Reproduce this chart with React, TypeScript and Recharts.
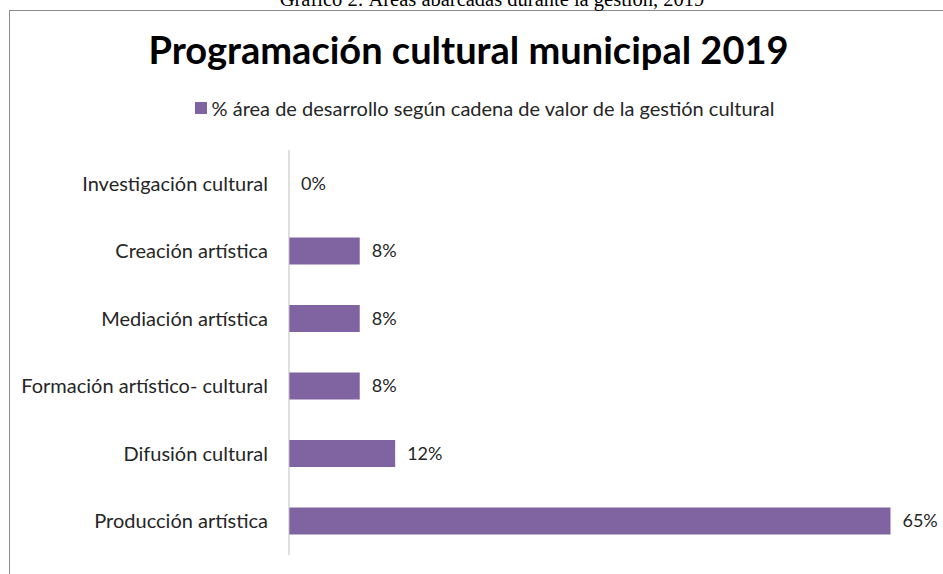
import React from 'react';
import { BarChart, Bar, XAxis, YAxis, LabelList } from 'recharts';

const categories = [
  'Investigación cultural',
  'Creación artística',
  'Mediación artística',
  'Formación artístico- cultural',
  'Difusión cultural',
  'Producción artística',
];
const shares = [0, 7.69, 7.69, 7.69, 11.54, 65.38];
const seriesName = '% área de desarrollo según cadena de valor de la gestión cultural';

const data = categories.map((name, i) => ({ name, value: shares[i] }));

const font = 'Lato, "Open Sans", sans-serif';
const purple = '#8064A2';

// LabelList content, so the 0% bar still gets its label
const ValueLabel = (props: any) => {
  const { x, y, width, height, value } = props;
  return (
    <text x={x + width + 12} y={y + height / 2} dy={6} fill="#262626" fontSize={18} fontFamily={font}>
      {`${Math.round(value)}%`}
    </text>
  );
};

export default function App() {
  return (
    <div style={{ position: 'fixed', top: 0, left: 0, width: 943, height: 574, overflow: 'hidden', background: '#fff', fontFamily: font }}>
      <div style={{ position: 'absolute', left: 9, top: 10, width: 960, height: 600, border: '1px solid #8c8c8c' }} />
      <div style={{ position: 'absolute', top: 26, left: 0, width: 937, textAlign: 'center', fontSize: 38, fontWeight: 700, color: '#000', lineHeight: '46px' }}>
        Programación cultural municipal 2019
      </div>
      <div style={{ position: 'absolute', top: 96, left: 0, width: 969, display: 'flex', justifyContent: 'center', alignItems: 'center', fontSize: 20, color: '#262626', lineHeight: '24px' }}>
        <span style={{ display: 'inline-block', width: 12, height: 12, background: purple, marginRight: 5 }} />
        <span>{seriesName}</span>
      </div>
      <div style={{ position: 'absolute', top: 0, left: 0 }}>
        <BarChart width={943} height={574} data={data} layout="vertical" margin={{ top: 150, right: 10, bottom: 19, left: 0 }}>
          <XAxis type="number" domain={[0, 70]} hide />
          <YAxis
            type="category"
            dataKey="name"
            width={289}
            tickLine={false}
            tickSize={0}
            tickMargin={21}
            axisLine={{ stroke: '#bfbfbf' }}
            tick={{ fill: '#262626', fontSize: 20, fontFamily: font }}
          />
          <Bar dataKey="value" name={seriesName} fill={purple} barSize={27} minPointSize={0.001} isAnimationActive={false}>
            <LabelList dataKey="value" content={ValueLabel} />
          </Bar>
        </BarChart>
      </div>
      <svg style={{ position: 'absolute', top: 0, left: 0 }} width={943} height={20}>
        <text x={492} y={6} textAnchor="middle" fontFamily="Liberation Serif, serif" fontSize={20.5} fill="#000">
          Gráfico 2: Áreas abarcadas durante la gestión, 2019
        </text>
      </svg>
    </div>
  );
}
